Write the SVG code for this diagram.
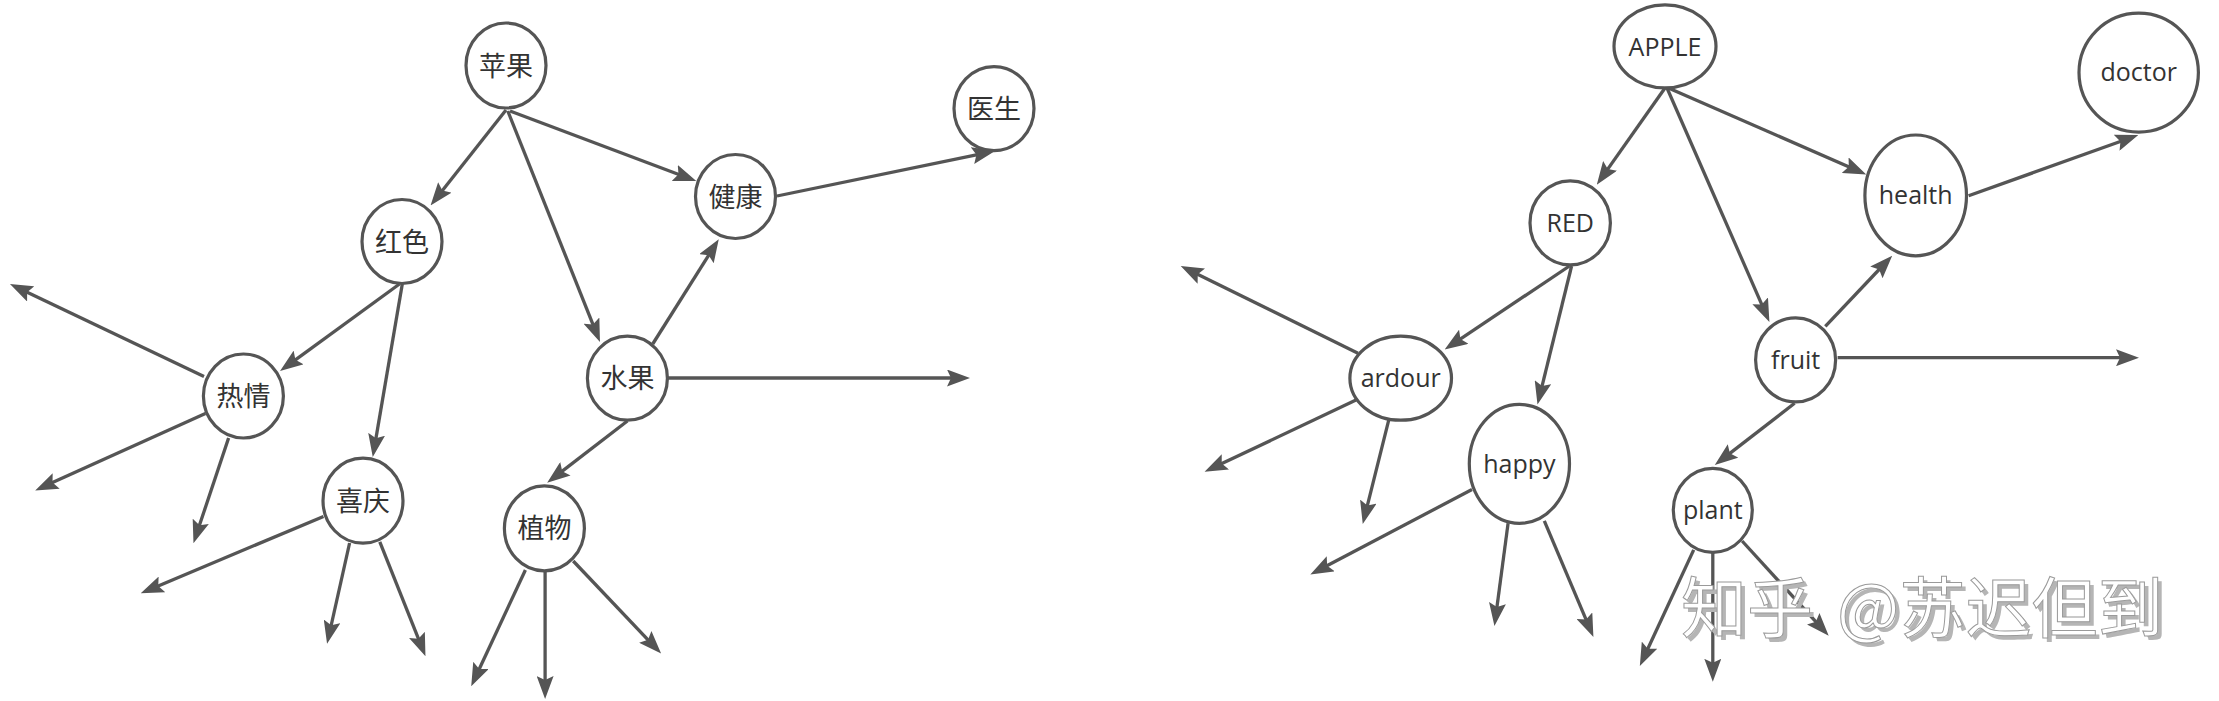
<svg xmlns="http://www.w3.org/2000/svg" width="2219" height="701" viewBox="0 0 2219 701">
<style>
.node{fill:#fff;stroke:#555;stroke-width:3.2}
.zh{font-family:"Noto Sans CJK SC","Noto Sans",sans-serif;font-size:27px;fill:#333;text-anchor:middle}
.en{font-family:"Open Sans","Noto Sans",sans-serif;font-size:25px;fill:#333;text-anchor:middle}
.edge{stroke:#555;stroke-width:3.3;fill:none;marker-end:url(#arr)}
.wm{font-family:"Noto Sans CJK SC",sans-serif;font-size:66px;text-anchor:start}
.wmb{fill:#b5b5b5}
.wmf{fill:#fff;stroke:#9a9a9a;stroke-width:1}
</style>
<defs>
<marker id="arr" markerUnits="userSpaceOnUse" markerWidth="23" markerHeight="17" refX="15" refY="8.5" orient="auto">
<path d="M0,0 L23,8.5 L0,17 L4,8.5 z" fill="#555"/>
</marker>
</defs>
<rect width="2219" height="701" fill="#fff"/>
<g id="connectors">
<line class="edge" x1="506" y1="110" x2="435.5" y2="199.2"/>
<line class="edge" x1="507.8" y1="111" x2="597" y2="334.6"/>
<line class="edge" x1="510" y1="111" x2="688.8" y2="178.2"/>
<line class="edge" x1="777" y1="196" x2="987.2" y2="152.6"/>
<line class="edge" x1="652.7" y1="344" x2="714.5" y2="246"/>
<line class="edge" x1="668" y1="378" x2="962" y2="378"/>
<line class="edge" x1="627.4" y1="421" x2="553.5" y2="477.9"/>
<line class="edge" x1="399.5" y1="284" x2="286.5" y2="366.3"/>
<line class="edge" x1="402.3" y1="284" x2="374.1" y2="449.1"/>
<line class="edge" x1="204" y1="376.4" x2="17.2" y2="287.4"/>
<line class="edge" x1="205.4" y1="413.5" x2="42.5" y2="487.1"/>
<line class="edge" x1="228.6" y1="438" x2="196" y2="535.6"/>
<line class="edge" x1="323.5" y1="516.4" x2="148.1" y2="590.2"/>
<line class="edge" x1="349.6" y1="543" x2="328.8" y2="636"/>
<line class="edge" x1="379.8" y1="541.8" x2="422.5" y2="648.9"/>
<line class="edge" x1="525.4" y1="570" x2="474.6" y2="679"/>
<line class="edge" x1="545.1" y1="571.3" x2="545.1" y2="691"/>
<line class="edge" x1="573.2" y1="561" x2="655.6" y2="647.8"/>
<line class="edge" x1="1665" y1="88" x2="1601.4" y2="178.1"/>
<line class="edge" x1="1667" y1="88" x2="1766.2" y2="314.6"/>
<line class="edge" x1="1668.4" y1="88" x2="1858.9" y2="171.2"/>
<line class="edge" x1="1968.6" y1="195.8" x2="2130.8" y2="137.7"/>
<line class="edge" x1="1825.3" y1="326.4" x2="1886.7" y2="261.5"/>
<line class="edge" x1="1837.6" y1="357.7" x2="2131" y2="357.7"/>
<line class="edge" x1="1794.6" y1="403.3" x2="1721.1" y2="460.1"/>
<line class="edge" x1="1569.5" y1="266" x2="1451.3" y2="345.1"/>
<line class="edge" x1="1571.6" y1="266" x2="1539.4" y2="396.8"/>
<line class="edge" x1="1358" y1="353.2" x2="1187.9" y2="269.5"/>
<line class="edge" x1="1356" y1="400.1" x2="1211.8" y2="468.3"/>
<line class="edge" x1="1388.7" y1="420.2" x2="1364.7" y2="516.2"/>
<line class="edge" x1="1472" y1="489.5" x2="1317.4" y2="570.8"/>
<line class="edge" x1="1508.1" y1="523.1" x2="1495.5" y2="618"/>
<line class="edge" x1="1544.3" y1="520.8" x2="1590.3" y2="629.6"/>
<line class="edge" x1="1693.7" y1="549.9" x2="1643.2" y2="658.8"/>
<line class="edge" x1="1712.8" y1="553" x2="1712.8" y2="673.8"/>
<line class="edge" x1="1742.1" y1="541" x2="1823.3" y2="629.8"/>
</g>
<g id="n-pingguo"><ellipse class="node" cx="506" cy="65.5" rx="40" ry="42.5"/><text class="zh" x="506" y="75.5">苹果</text></g>
<g id="n-hongse"><ellipse class="node" cx="402" cy="241.5" rx="40" ry="42"/><text class="zh" x="402" y="251.5">红色</text></g>
<g id="n-jiankang"><ellipse class="node" cx="735.5" cy="196.5" rx="40" ry="42"/><text class="zh" x="735.5" y="206.5">健康</text></g>
<g id="n-yisheng"><ellipse class="node" cx="994" cy="108.6" rx="40" ry="42"/><text class="zh" x="994" y="118.6">医生</text></g>
<g id="n-reqing"><ellipse class="node" cx="243.4" cy="396" rx="40" ry="42"/><text class="zh" x="243.4" y="406">热情</text></g>
<g id="n-shuiguo"><ellipse class="node" cx="627.4" cy="378.2" rx="40" ry="42"/><text class="zh" x="627.4" y="388.2">水果</text></g>
<g id="n-xiqing"><ellipse class="node" cx="363" cy="500.7" rx="40" ry="42.5"/><text class="zh" x="363" y="510.7">喜庆</text></g>
<g id="n-zhiwu"><ellipse class="node" cx="544.4" cy="528.4" rx="40" ry="42.5"/><text class="zh" x="544.4" y="538.4">植物</text></g>
<g id="n-apple"><ellipse class="node" cx="1665" cy="46.3" rx="51" ry="41.5"/><text class="en" x="1665" y="55.5">APPLE</text></g>
<g id="n-doctor"><ellipse class="node" cx="2138.7" cy="72.6" rx="59.7" ry="59.5"/><text class="en" x="2138.7" y="81">doctor</text></g>
<g id="n-health"><ellipse class="node" cx="1915.7" cy="195.4" rx="50.8" ry="60.4"/><text class="en" x="1915.7" y="204">health</text></g>
<g id="n-red"><ellipse class="node" cx="1570.2" cy="222.9" rx="40.2" ry="42"/><text class="en" x="1570.2" y="232">RED</text></g>
<g id="n-fruit"><ellipse class="node" cx="1795.6" cy="359.9" rx="40" ry="42"/><text class="en" x="1795.6" y="368.5">fruit</text></g>
<g id="n-ardour"><ellipse class="node" cx="1400.7" cy="378.2" rx="50.8" ry="42"/><text class="en" x="1400.7" y="387">ardour</text></g>
<g id="n-happy"><ellipse class="node" cx="1519.4" cy="463.8" rx="50.1" ry="59.5"/><text class="en" x="1519.4" y="472.5">happy</text></g>
<g id="n-plant"><ellipse class="node" cx="1712.8" cy="510.3" rx="39.5" ry="42"/><text class="en" x="1712.8" y="519">plant</text></g>
<g id="watermark">
<text class="wm wmb" x="1685" y="636">知乎</text>
<text class="wm wmb" x="1841" y="636">@苏迟但到</text>
<text class="wm wmf" x="1681" y="632">知乎</text>
<text class="wm wmf" x="1837" y="632">@苏迟但到</text>
</g>
</svg>
